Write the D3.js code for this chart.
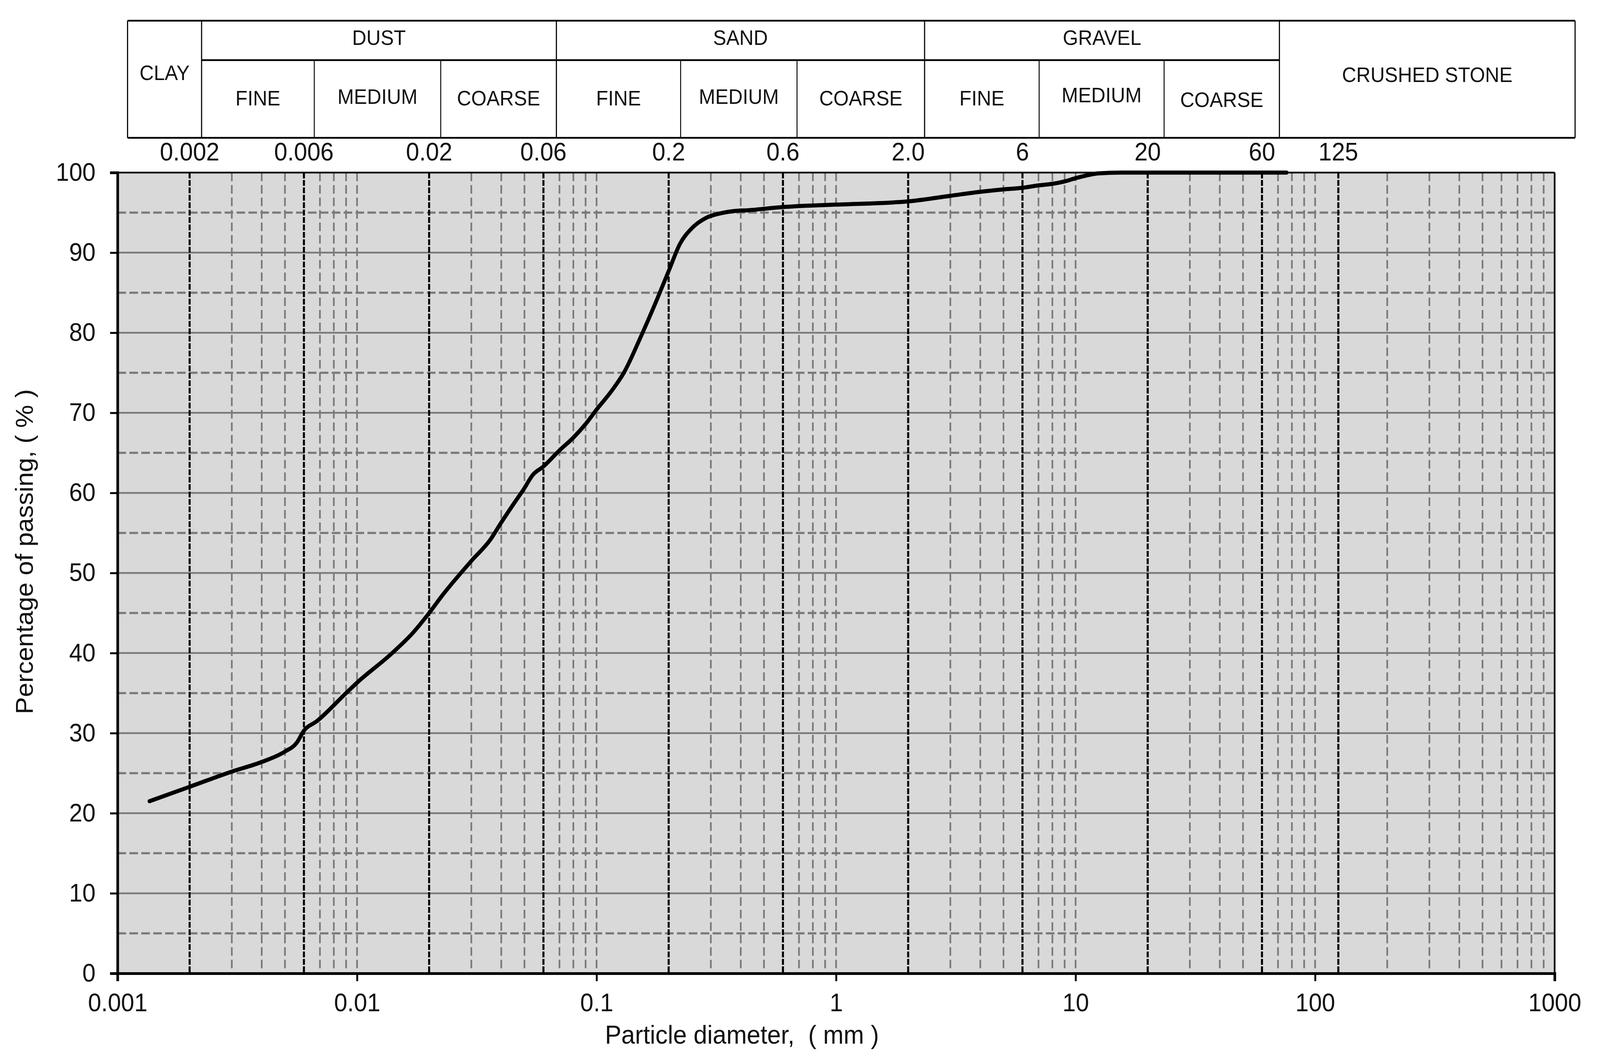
<!DOCTYPE html>
<html>
<head>
<meta charset="utf-8">
<script src="https://cdn.jsdelivr.net/npm/d3@7"></script>
<style>
  html, body { margin: 0; padding: 0; background: #fff; overflow: hidden; }
  svg { display: block; width: 100vw; height: 100vh; font-family: "Liberation Sans", Arial, sans-serif; }
</style>
</head>
<body>
<svg id="chart"></svg>
<script>
// grain size curve
var diameters = [0.00136, 0.002, 0.003, 0.004, 0.005, 0.0056, 0.006, 0.0068, 0.009, 0.01,
                 0.0139, 0.0172, 0.02, 0.0227, 0.03, 0.0361, 0.04, 0.045, 0.05, 0.054,
                 0.06, 0.07, 0.08, 0.09, 0.1, 0.116, 0.13, 0.153, 0.175, 0.2,
                 0.223, 0.249, 0.285, 0.328, 0.376, 0.43, 0.6, 1.0, 2.0, 3,
                 4, 5, 6, 7, 8, 9, 10, 12.5, 15.6, 76];
var passing = [21.5, 23.3, 25.2, 26.4, 27.7, 28.8, 30.3, 31.5, 35.0, 36.3,
               39.9, 42.6, 45.0, 47.2, 51.5, 54.2, 56.3, 58.6, 60.6, 62.2,
               63.3, 65.3, 66.9, 68.6, 70.4, 72.8, 75.0, 79.5, 83.5, 87.7,
               91.1, 93.0, 94.3, 94.9, 95.2, 95.3, 95.7, 96.0, 96.4, 97.1,
               97.6, 97.9, 98.1, 98.4, 98.6, 98.9, 99.3, 99.9, 100, 100];

var mainGroups = ["CLAY", "DUST", "SAND", "GRAVEL", "CRUSHED STONE"];
var subGroups = ["FINE", "MEDIUM", "COARSE"];
var boundaryValues = [0.002, 0.006, 0.02, 0.06, 0.2, 0.6, 2, 6, 20, 60, 125];
var boundaryLabels = ["0.002", "0.006", "0.02", "0.06", "0.2", "0.6", "2.0", "6", "20", "60", "125"];
var xTickValues = [0.001, 0.01, 0.1, 1, 10, 100, 1000];
var xTickLabels = ["0.001", "0.01", "0.1", "1", "10", "100", "1000"];
var yTickValues = [0, 10, 20, 30, 40, 50, 60, 70, 80, 90, 100];
var yHalfValues = [5, 15, 25, 35, 45, 55, 65, 75, 85, 95];

var svgWidth = 4302, svgHeight = 2720;
var plotLeft = 316, plotRight = 4180, plotTop = 442, plotBottom = 2493;

// table layout (pixels)
var tableEdges = [343, 542, 845, 1185, 1496, 1830, 2143, 2486, 2794, 3130, 3440, 4235];
var tableTop = 53, tableMid = 154, tableBottom = 353;

var svg = d3.select('#chart')
    .attr('viewBox', '0 0 ' + svgWidth + ' ' + svgHeight)
    .attr('preserveAspectRatio', 'none');

var x = d3.scaleLog().domain([0.001, 1000]).range([plotLeft, plotRight]);
var y = d3.scaleLinear().domain([0, 100]).range([plotBottom, plotTop]);

// ---- table on top ----
var table = svg.append('g').attr('class', 'table');

table.append('line').attr('x1', tableEdges[0]).attr('x2', tableEdges[11])
    .attr('y1', tableTop).attr('y2', tableTop).attr('stroke', '#000').attr('stroke-width', 4.5);
table.append('line').attr('x1', tableEdges[0]).attr('x2', tableEdges[11])
    .attr('y1', tableBottom).attr('y2', tableBottom).attr('stroke', '#000').attr('stroke-width', 4.5);
table.append('line').attr('x1', tableEdges[1]).attr('x2', tableEdges[10])
    .attr('y1', tableMid).attr('y2', tableMid).attr('stroke', '#000').attr('stroke-width', 4.5);

var fullEdges = [0, 1, 4, 7, 10, 11];
var subEdges = [2, 3, 5, 6, 8, 9];
table.selectAll('line.full')
    .data(fullEdges)
    .enter()
    .append('line')
    .attr('class', 'full')
    .attr('x1', function(i) { return tableEdges[i]; })
    .attr('x2', function(i) { return tableEdges[i]; })
    .attr('y1', tableTop).attr('y2', tableBottom)
    .attr('stroke', '#000').attr('stroke-width', 3);
table.selectAll('line.sub')
    .data(subEdges)
    .enter()
    .append('line')
    .attr('class', 'sub')
    .attr('x1', function(i) { return tableEdges[i]; })
    .attr('x2', function(i) { return tableEdges[i]; })
    .attr('y1', tableMid).attr('y2', tableBottom)
    .attr('stroke', '#000').attr('stroke-width', 2.5);

// main group headers: [start edge, end edge, y centre]
var mainSpans = [[0, 1, 187], [1, 4, 97], [4, 7, 97], [7, 10, 97], [10, 11, 192]];
table.selectAll('text.main')
    .data(mainGroups)
    .enter()
    .append('text')
    .attr('class', 'main')
    .attr('x', function(d, i) { return (tableEdges[mainSpans[i][0]] + tableEdges[mainSpans[i][1]]) / 2; })
    .attr('y', function(d, i) { return mainSpans[i][2]; })
    .attr('text-anchor', 'middle')
    .attr('dominant-baseline', 'central')
    .attr('font-size', 53)
    .attr('fill', '#111')
    .text(function(d) { return d; });

var subOffsets = [[252, 248, 252], [252, 248, 252], [252, 244, 256]];
[1, 4, 7].forEach(function(start, g) {
  table.selectAll('text.sub' + g)
      .data(subGroups)
      .enter()
      .append('text')
      .attr('class', 'sub' + g)
      .attr('x', function(d, i) { return (tableEdges[start + i] + tableEdges[start + i + 1]) / 2; })
      .attr('y', function(d, i) { return subOffsets[g][i]; })
      .attr('text-anchor', 'middle')
      .attr('dominant-baseline', 'central')
      .attr('font-size', 53)
      .attr('fill', '#111')
      .text(function(d) { return d; });
});

// boundary numbers under the table
svg.selectAll('text.bound')
    .data(boundaryValues)
    .enter()
    .append('text')
    .attr('class', 'bound')
    .attr('x', function(d) { return x(d); })
    .attr('y', 411)
    .attr('text-anchor', 'middle')
    .attr('font-size', 64)
    .attr('fill', '#111')
    .text(function(d, i) { return boundaryLabels[i]; });

// ---- plot area ----
svg.append('rect')
    .attr('x', plotLeft).attr('y', plotTop)
    .attr('width', plotRight - plotLeft).attr('height', plotBottom - plotTop)
    .attr('fill', '#d9d9d9');

// horizontal grid
svg.selectAll('line.hmajor')
    .data(yTickValues.slice(1, -1))
    .enter()
    .append('line')
    .attr('class', 'hmajor')
    .attr('x1', plotLeft).attr('x2', plotRight)
    .attr('y1', function(d) { return y(d); })
    .attr('y2', function(d) { return y(d); })
    .attr('stroke', '#7a7a7a').attr('stroke-width', 4.5);

svg.selectAll('line.hhalf')
    .data(yHalfValues)
    .enter()
    .append('line')
    .attr('class', 'hhalf')
    .attr('x1', plotLeft).attr('x2', plotRight)
    .attr('y1', function(d) { return y(d); })
    .attr('y2', function(d) { return y(d); })
    .attr('stroke', '#7a7a7a').attr('stroke-width', 5.5)
    .attr('stroke-dasharray', '23,9');

// vertical minor (log) grid
var minorValues = [];
xTickValues.slice(0, -1).forEach(function(dec) {
  for (var k = 1; k <= 9; k++) {
    var v = +(dec * k).toPrecision(3);
    if (v > 0.001 && boundaryValues.indexOf(v) < 0) minorValues.push(v);
  }
});

svg.selectAll('line.vminor')
    .data(minorValues)
    .enter()
    .append('line')
    .attr('class', 'vminor')
    .attr('x1', function(d) { return x(d); })
    .attr('x2', function(d) { return x(d); })
    .attr('y1', plotTop).attr('y2', plotBottom)
    .attr('stroke', '#7a7a7a').attr('stroke-width', 4.5)
    .attr('stroke-dasharray', '22,10');

// boundary lines
svg.selectAll('line.vbound')
    .data(boundaryValues)
    .enter()
    .append('line')
    .attr('class', 'vbound')
    .attr('x1', function(d) { return x(d); })
    .attr('x2', function(d) { return x(d); })
    .attr('y1', plotTop).attr('y2', plotBottom)
    .attr('stroke', '#000').attr('stroke-width', 5.5)
    .attr('stroke-dasharray', '15,4');

// curve
var points = diameters.map(function(d, i) { return [d, passing[i]]; });
var line = d3.line()
    .x(function(d) { return x(d[0]); })
    .y(function(d) { return y(d[1]); })
    .curve(d3.curveMonotoneX);

svg.append('path')
    .datum(points)
    .attr('d', line)
    .attr('fill', 'none')
    .attr('stroke', '#000')
    .attr('stroke-width', 10.5)
    .attr('stroke-linecap', 'round')
    .attr('stroke-linejoin', 'round');

// border
svg.append('line').attr('x1', plotLeft).attr('x2', plotRight).attr('y1', plotTop).attr('y2', plotTop)
    .attr('stroke', '#000').attr('stroke-width', 4.5);
svg.append('line').attr('x1', plotRight).attr('x2', plotRight).attr('y1', plotTop).attr('y2', plotBottom)
    .attr('stroke', '#000').attr('stroke-width', 4.5);

// axes
var yAxis = d3.axisLeft(y)
    .tickValues(yTickValues)
    .tickSize(20)
    .tickPadding(39)
    .tickFormat(d3.format('d'));

var gy = svg.append('g')
    .attr('transform', 'translate(' + plotLeft + ',0)')
    .call(yAxis);
gy.select('.domain').attr('stroke', '#000').attr('stroke-width', 7);
gy.selectAll('.tick line').attr('stroke', '#000').attr('stroke-width', 5);
gy.selectAll('.tick text').attr('font-size', 64).attr('fill', '#111')
    .attr('font-family', '"Liberation Sans", Arial, sans-serif');

var xAxis = d3.axisBottom(x)
    .tickValues(xTickValues)
    .tickSize(20)
    .tickPadding(32)
    .tickFormat(function(d, i) { return xTickLabels[i]; });

var gx = svg.append('g')
    .attr('transform', 'translate(0,' + plotBottom + ')')
    .call(xAxis);
gx.select('.domain').attr('stroke', '#000').attr('stroke-width', 7);
gx.selectAll('.tick line').attr('stroke', '#000').attr('stroke-width', 5);
gx.selectAll('.tick text').attr('font-size', 64).attr('fill', '#111')
    .attr('font-family', '"Liberation Sans", Arial, sans-serif');

// axis titles
svg.append('text')
    .attr('x', 1995)
    .attr('y', 2673)
    .attr('text-anchor', 'middle')
    .attr('font-size', 66)
    .attr('fill', '#111')
    .style('white-space', 'pre')
    .text('Particle diameter,  ( mm )');

svg.append('text')
    .attr('transform', 'translate(88,1413) rotate(-90)')
    .attr('text-anchor', 'middle')
    .attr('font-size', 66)
    .attr('fill', '#111')
    .style('white-space', 'pre')
    .text('Percentage of passing, ( % )');
</script>
</body>
</html>
